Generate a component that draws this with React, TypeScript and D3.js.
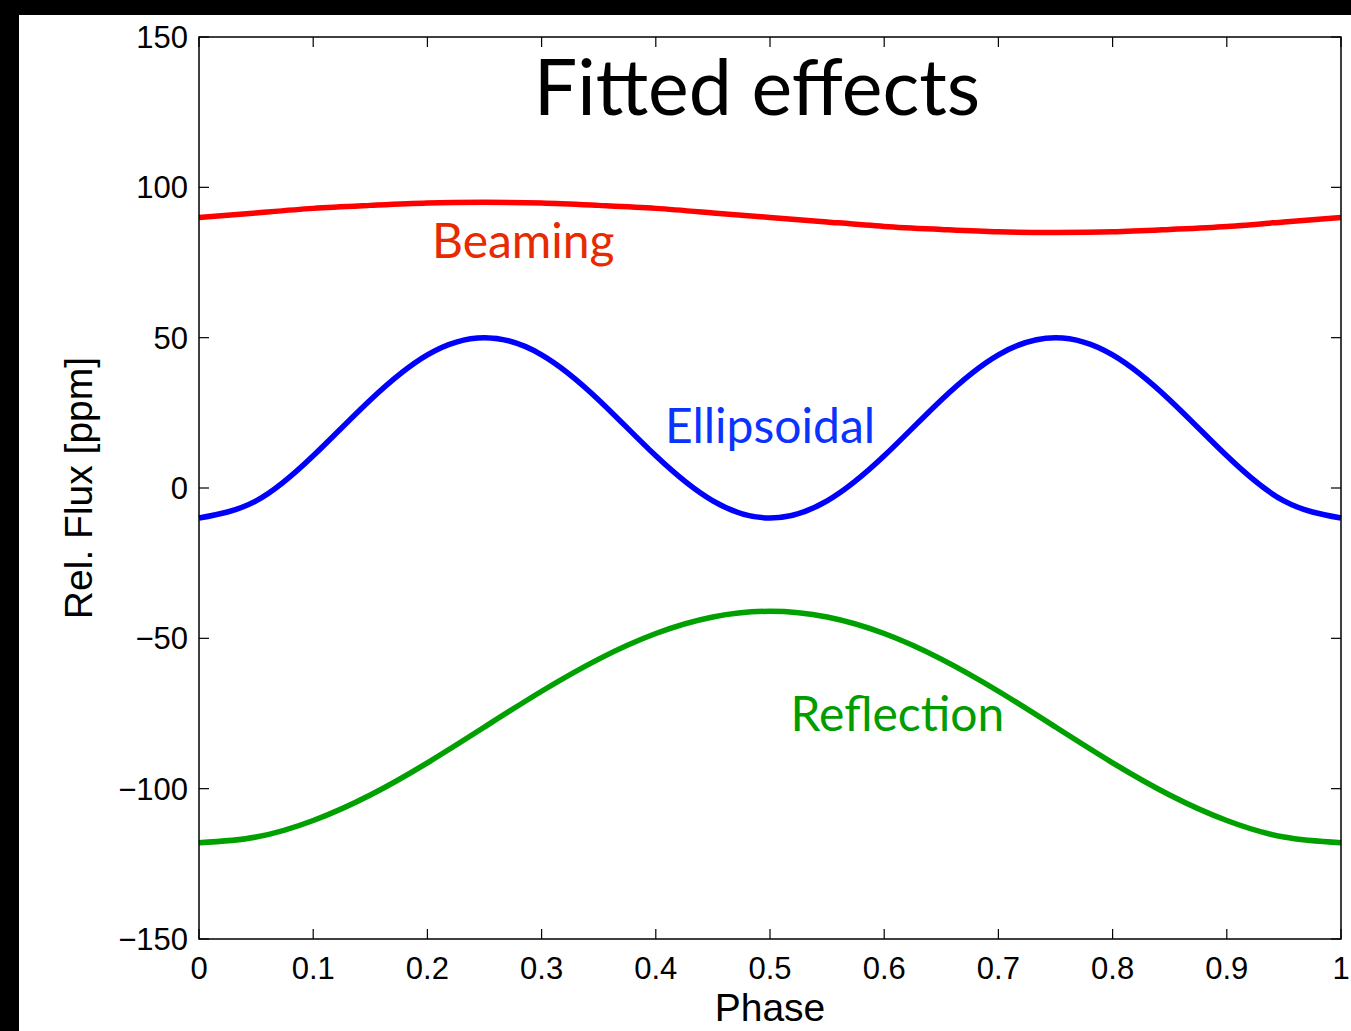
import React, { useRef, useEffect } from 'react';
import * as d3 from 'd3';

// phase samples (step 0.05) and values, in ppm
const phase = [0, 0.05, 0.1, 0.15, 0.2, 0.25, 0.3, 0.35, 0.4, 0.45, 0.5,
  0.55, 0.6, 0.65, 0.7, 0.75, 0.8, 0.85, 0.9, 0.95, 1];
const beaming = [90, 91.5, 93, 94, 94.8, 95, 94.8, 94, 93, 91.5, 90,
  88.5, 87, 86, 85.2, 85, 85.2, 86, 87, 88.5, 90];
const ellipsoidal = [-10, -4.3, 10.7, 29.3, 44.3, 50, 44.3, 29.3, 10.7, -4.3, -10,
  -4.3, 10.7, 29.3, 44.3, 50, 44.3, 29.3, 10.7, -4.3, -10];
const reflection = [-118, -116.1, -110.6, -102.1, -91.4, -79.5, -67.6, -56.9, -48.4, -42.9, -41,
  -42.9, -48.4, -56.9, -67.6, -79.5, -91.4, -102.1, -110.6, -116.1, -118];

const xTicks = [0, 0.1, 0.2, 0.3, 0.4, 0.5, 0.6, 0.7, 0.8, 0.9, 1];
const yTicks = [-150, -100, -50, 0, 50, 100, 150];

// label anchor: phase of left edge, baseline value in ppm
const series = [
  { name: 'Beaming', values: beaming, color: '#ff0000', labelColor: '#e82a00', lx: 0.204, ly: 76.6 },
  { name: 'Ellipsoidal', values: ellipsoidal, color: '#0000ff', labelColor: '#0a33ff', lx: 0.408, ly: 15 },
  { name: 'Reflection', values: reflection, color: '#00a000', labelColor: '#009c00', lx: 0.518, ly: -80.8 },
];

const W = 1351;
const H = 1031;
const m = { left: 199, right: 1341, top: 37, bottom: 939 };
const tickFont = '"Liberation Sans", Arial, sans-serif';
const titleFont = 'Lato, "Open Sans", sans-serif';

const App = () => {
  const svgRef = useRef<SVGSVGElement>(null);

  useEffect(() => {
    const svg = d3.select(svgRef.current);
    svg.selectAll('*').remove();

    svg.append('rect').attr('width', W).attr('height', H).attr('fill', '#000');
    svg.append('rect').attr('x', 19).attr('y', 15).attr('width', W - 19).attr('height', H - 15).attr('fill', '#fff');

    const x = d3.scaleLinear().domain([0, 1]).range([m.left, m.right]);
    const y = d3.scaleLinear().domain([-150, 150]).range([m.bottom, m.top]);

    // lines
    series.forEach((s) => {
      const line = d3.line<number>()
        .x((_, i) => x(phase[i]))
        .y((d) => y(d))
        .curve(d3.curveNatural);
      svg.append('path')
        .attr('d', line(s.values))
        .attr('fill', 'none')
        .attr('stroke', s.color)
        .attr('stroke-width', 5.5)
        .attr('stroke-linejoin', 'round');
    });

    // frame
    svg.append('rect')
      .attr('x', m.left).attr('y', m.top)
      .attr('width', m.right - m.left).attr('height', m.bottom - m.top)
      .attr('fill', 'none').attr('stroke', '#000').attr('stroke-width', 1.5);

    const tickLen = 10;
    const g = svg.append('g').attr('stroke', '#000').attr('stroke-width', 1.2);
    xTicks.forEach((t) => {
      g.append('line').attr('x1', x(t)).attr('x2', x(t)).attr('y1', m.bottom).attr('y2', m.bottom - tickLen);
      g.append('line').attr('x1', x(t)).attr('x2', x(t)).attr('y1', m.top).attr('y2', m.top + tickLen);
    });
    yTicks.forEach((t) => {
      g.append('line').attr('x1', m.left).attr('x2', m.left + tickLen).attr('y1', y(t)).attr('y2', y(t));
      g.append('line').attr('x1', m.right).attr('x2', m.right - tickLen).attr('y1', y(t)).attr('y2', y(t));
    });

    svg.selectAll('.xt').data(xTicks).enter().append('text')
      .attr('x', (d) => x(d)).attr('y', 979)
      .attr('text-anchor', 'middle')
      .attr('font-family', tickFont).attr('font-size', 31)
      .text((d) => d3.format('~g')(d));

    svg.selectAll('.yt').data(yTicks).enter().append('text')
      .attr('x', 188).attr('y', (d) => y(d) + 11)
      .attr('text-anchor', 'end')
      .attr('font-family', tickFont).attr('font-size', 31)
      .text((d) => (d < 0 ? '\u2212' + Math.abs(d) : String(d)));

    svg.append('text')
      .attr('x', (m.left + m.right) / 2).attr('y', 1021)
      .attr('text-anchor', 'middle')
      .attr('font-family', tickFont).attr('font-size', 39)
      .text('Phase');

    svg.append('text')
      .attr('transform', `translate(92, ${(m.top + m.bottom) / 2}) rotate(-90)`)
      .attr('text-anchor', 'middle')
      .attr('font-family', tickFont).attr('font-size', 39)
      .text('Rel. Flux [ppm]');

    svg.append('text')
      .attr('x', 757).attr('y', 115)
      .attr('text-anchor', 'middle')
      .attr('font-family', titleFont).attr('font-size', 77)
      .attr('fill', '#000')
      .text('Fitted effects');

    series.forEach((s) => {
      svg.append('text')
        .attr('x', x(s.lx)).attr('y', y(s.ly))
        .attr('font-family', titleFont).attr('font-size', 48)
        .attr('fill', s.labelColor)
        .text(s.name);
    });
  }, []);

  return (
    <div style={{ position: 'absolute', left: 0, top: 0 }}>
      <svg ref={svgRef} width={W} height={H} style={{ display: 'block' }}></svg>
    </div>
  );
};

export default App;
